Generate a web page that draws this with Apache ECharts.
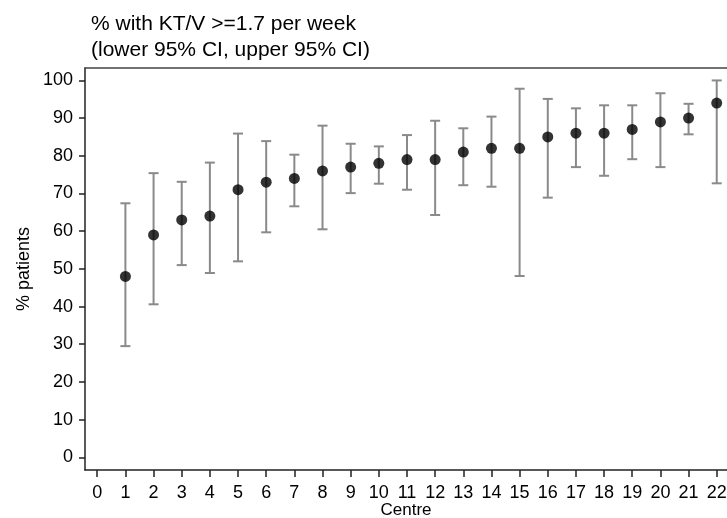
<!DOCTYPE html>
<html>
<head>
<meta charset="utf-8">
<title>% with KT/V >=1.7 per week</title>
<script src="https://cdn.jsdelivr.net/npm/echarts@6/dist/echarts.min.js"></script>
<style>
  html, body { margin: 0; padding: 0; background: #fff; }
  #chart { width: 727px; height: 518px; }
</style>
</head>
<body>
<div id="chart"></div>
<script>
    'use strict';

    var centres = [1, 2, 3, 4, 5, 6, 7, 8, 9, 10, 11, 12, 13, 14, 15, 16, 17, 18, 19, 20, 21, 22];
    var pct = [48, 59, 63, 64, 71, 73, 74, 76, 77, 78, 79, 79, 81, 82, 82, 85, 86, 86, 87, 89, 90, 94];
    var lower = [29.5, 40.6, 51.0, 48.9, 52.0, 59.7, 66.6, 60.5, 70.1, 72.6, 71.0, 64.3,
                 72.2, 71.8, 48.1, 68.9, 77.0, 74.7, 79.1, 77.0, 85.7, 72.7];
    var upper = [67.4, 75.4, 73.1, 78.2, 85.9, 83.9, 80.3, 88.0, 83.2, 82.5, 85.5, 89.3,
                 87.3, 90.4, 97.8, 95.1, 92.6, 93.4, 93.4, 96.6, 93.8, 100];
    var xTicks = [0, 1, 2, 3, 4, 5, 6, 7, 8, 9, 10, 11, 12, 13, 14, 15, 16, 17, 18, 19, 20, 21, 22];
    var yTicks = [0, 10, 20, 30, 40, 50, 60, 70, 80, 90, 100];

    var font = "'Liberation Sans', Arial, sans-serif";

    var points = centres.map(function (c, i) { return [c, pct[i]]; });
    var bars = centres.map(function (c, i) { return [c, lower[i], upper[i]]; });

    // vertical CI line with a cap at each end
    function renderBar(params, api) {
        var x = api.value(0);
        var lo = api.coord([x, api.value(1)]);
        var hi = api.coord([x, api.value(2)]);
        var w = 5;
        var style = { stroke: '#8a8a8a', lineWidth: 2 };
        return {
            type: 'group',
            children: [
                { type: 'line', shape: { x1: lo[0], y1: lo[1], x2: hi[0], y2: hi[1] }, style: style },
                { type: 'line', shape: { x1: hi[0] - w, y1: hi[1], x2: hi[0] + w, y2: hi[1] }, style: style },
                { type: 'line', shape: { x1: lo[0] - w, y1: lo[1], x2: lo[0] + w, y2: lo[1] }, style: style }
            ]
        };
    }

    var chart = echarts.init(document.getElementById('chart'), null, { renderer: 'canvas' });

    var option = {
        animation: false,
        backgroundColor: '#fff',
        textStyle: { fontFamily: font },
        title: {
            text: '% with KT/V >=1.7 per week\n(lower 95% CI, upper 95% CI)',
            left: 86,
            top: 6,
            textStyle: { fontFamily: font, fontSize: 21, fontWeight: 'normal', color: '#000', lineHeight: 26 }
        },
        grid: { left: 85, right: 0, top: 68, bottom: 48, outerBoundsMode: 'none', containLabel: false },
        xAxis: [{
            type: 'value',
            min: -0.435,
            max: 22.365,
            name: 'Centre',
            nameLocation: 'middle',
            nameGap: 32,
            nameMoveOverlap: false,
            nameTextStyle: { fontFamily: font, fontSize: 17, color: '#000' },
            axisLine: { show: true, onZero: false, lineStyle: { color: '#222', width: 1.5 } },
            axisTick: { show: true, length: 7, customValues: xTicks, lineStyle: { color: '#222', width: 1.5 } },
            axisLabel: { customValues: xTicks, margin: 14, fontFamily: font, fontSize: 18, color: '#000' },
            splitLine: { show: false }
        }, {
            type: 'value',
            position: 'top',
            min: -0.435,
            max: 22.365,
            axisLine: { show: true, onZero: false, lineStyle: { color: '#444', width: 1.5 } },
            axisTick: { show: false },
            axisLabel: { show: false },
            splitLine: { show: false }
        }],
        yAxis: {
            type: 'value',
            min: -3.37,
            max: 103.3,
            name: '% patients',
            nameLocation: 'middle',
            nameGap: 52,
            nameMoveOverlap: false,
            nameTextStyle: { fontFamily: font, fontSize: 18, color: '#000' },
            axisLine: { show: true, onZero: false, lineStyle: { color: '#222', width: 1.5 } },
            axisTick: { show: true, length: 6, customValues: yTicks, lineStyle: { color: '#222', width: 1.5 } },
            axisLabel: { customValues: yTicks, margin: 12, fontFamily: font, fontSize: 18, color: '#000' },
            splitLine: { show: false }
        },
        series: [{
            type: 'custom',
            renderItem: renderBar,
            data: bars,
            encode: { x: 0, y: [1, 2] },
            z: 2
        }, {
            type: 'scatter',
            data: points,
            symbol: 'circle',
            symbolSize: 11,
            itemStyle: { color: '#000' },
            z: 3
        }]
    };

    chart.setOption(option);
</script>
</body>
</html>
